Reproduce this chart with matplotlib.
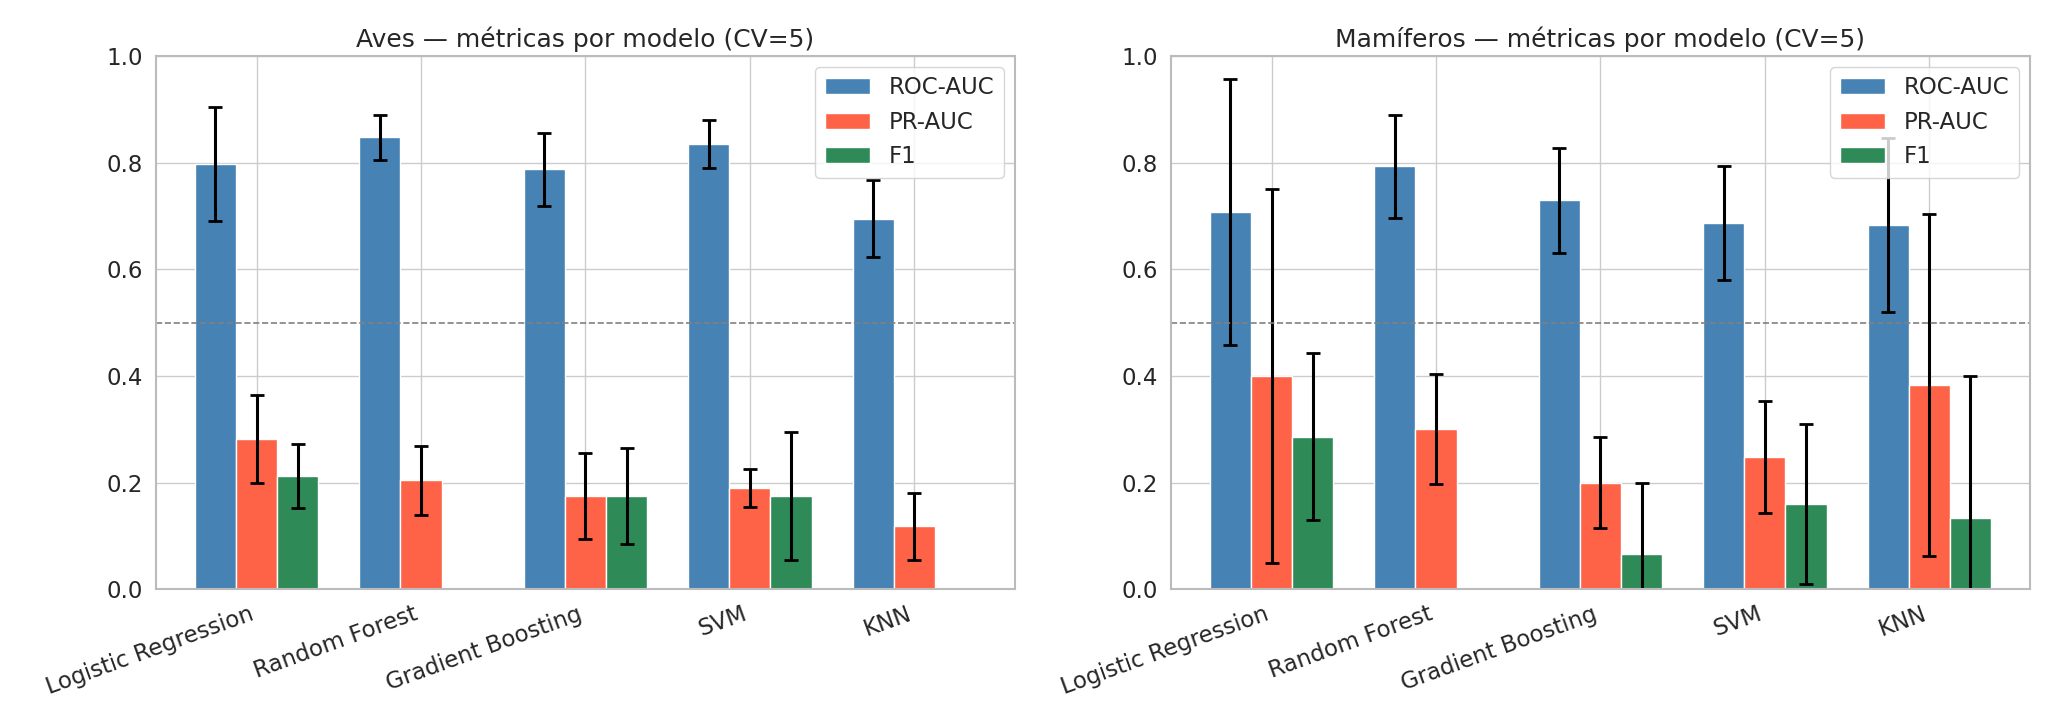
import matplotlib
matplotlib.use("Agg")
import matplotlib.pyplot as plt
import seaborn as sns
import numpy as np

sns.set_theme(style="whitegrid", font_scale=1.5)

models = ["Logistic Regression", "Random Forest", "Gradient Boosting", "SVM", "KNN"]
metrics = ["ROC-AUC", "PR-AUC", "F1"]
colors = ["steelblue", "tomato", "seagreen"]

aves_mean = {"ROC-AUC": [0.797, 0.847, 0.787, 0.835, 0.695],
             "PR-AUC": [0.282, 0.204, 0.175, 0.190, 0.118],
             "F1": [0.213, 0.0, 0.175, 0.175, 0.0]}
aves_std = {"ROC-AUC": [0.107, 0.042, 0.068, 0.045, 0.073],
            "PR-AUC": [0.083, 0.064, 0.080, 0.035, 0.063],
            "F1": [0.060, 0.0, 0.090, 0.120, 0.0]}
mam_mean = {"ROC-AUC": [0.707, 0.793, 0.729, 0.686, 0.683],
            "PR-AUC": [0.400, 0.300, 0.200, 0.248, 0.383],
            "F1": [0.286, 0.0, 0.067, 0.160, 0.133]}
mam_std = {"ROC-AUC": [0.250, 0.097, 0.099, 0.107, 0.163],
           "PR-AUC": [0.350, 0.103, 0.085, 0.105, 0.320],
           "F1": [0.157, 0.0, 0.133, 0.150, 0.267]}

fig, axes = plt.subplots(1, 2, figsize=(20.57, 7.26), dpi=100)
x = np.arange(len(models))
w = 0.25
for ax, title, mean, std in [(axes[0], "Aves — métricas por modelo (CV=5)", aves_mean, aves_std),
                             (axes[1], "Mamíferos — métricas por modelo (CV=5)", mam_mean, mam_std)]:
    for i, m in enumerate(metrics):
        ax.bar(x + (i - 1) * w, mean[m], w, yerr=std[m], capsize=5, color=colors[i],
               label=m, error_kw=dict(elinewidth=2.2, capthick=2, ecolor="black"))
    ax.axhline(0.5, color="gray", linestyle="--", linewidth=1.2)
    ax.set_ylim(0, 1)
    ax.set_xticks(x)
    ax.set_xticklabels(models, rotation=20, ha="right")
    ax.set_title(title)
    ax.legend(loc="upper right")
    for s in ax.spines.values():
        s.set_color("#bbbbbb")
        s.set_linewidth(1.5)
fig.tight_layout()
fig.savefig("out.png", dpi=100)
